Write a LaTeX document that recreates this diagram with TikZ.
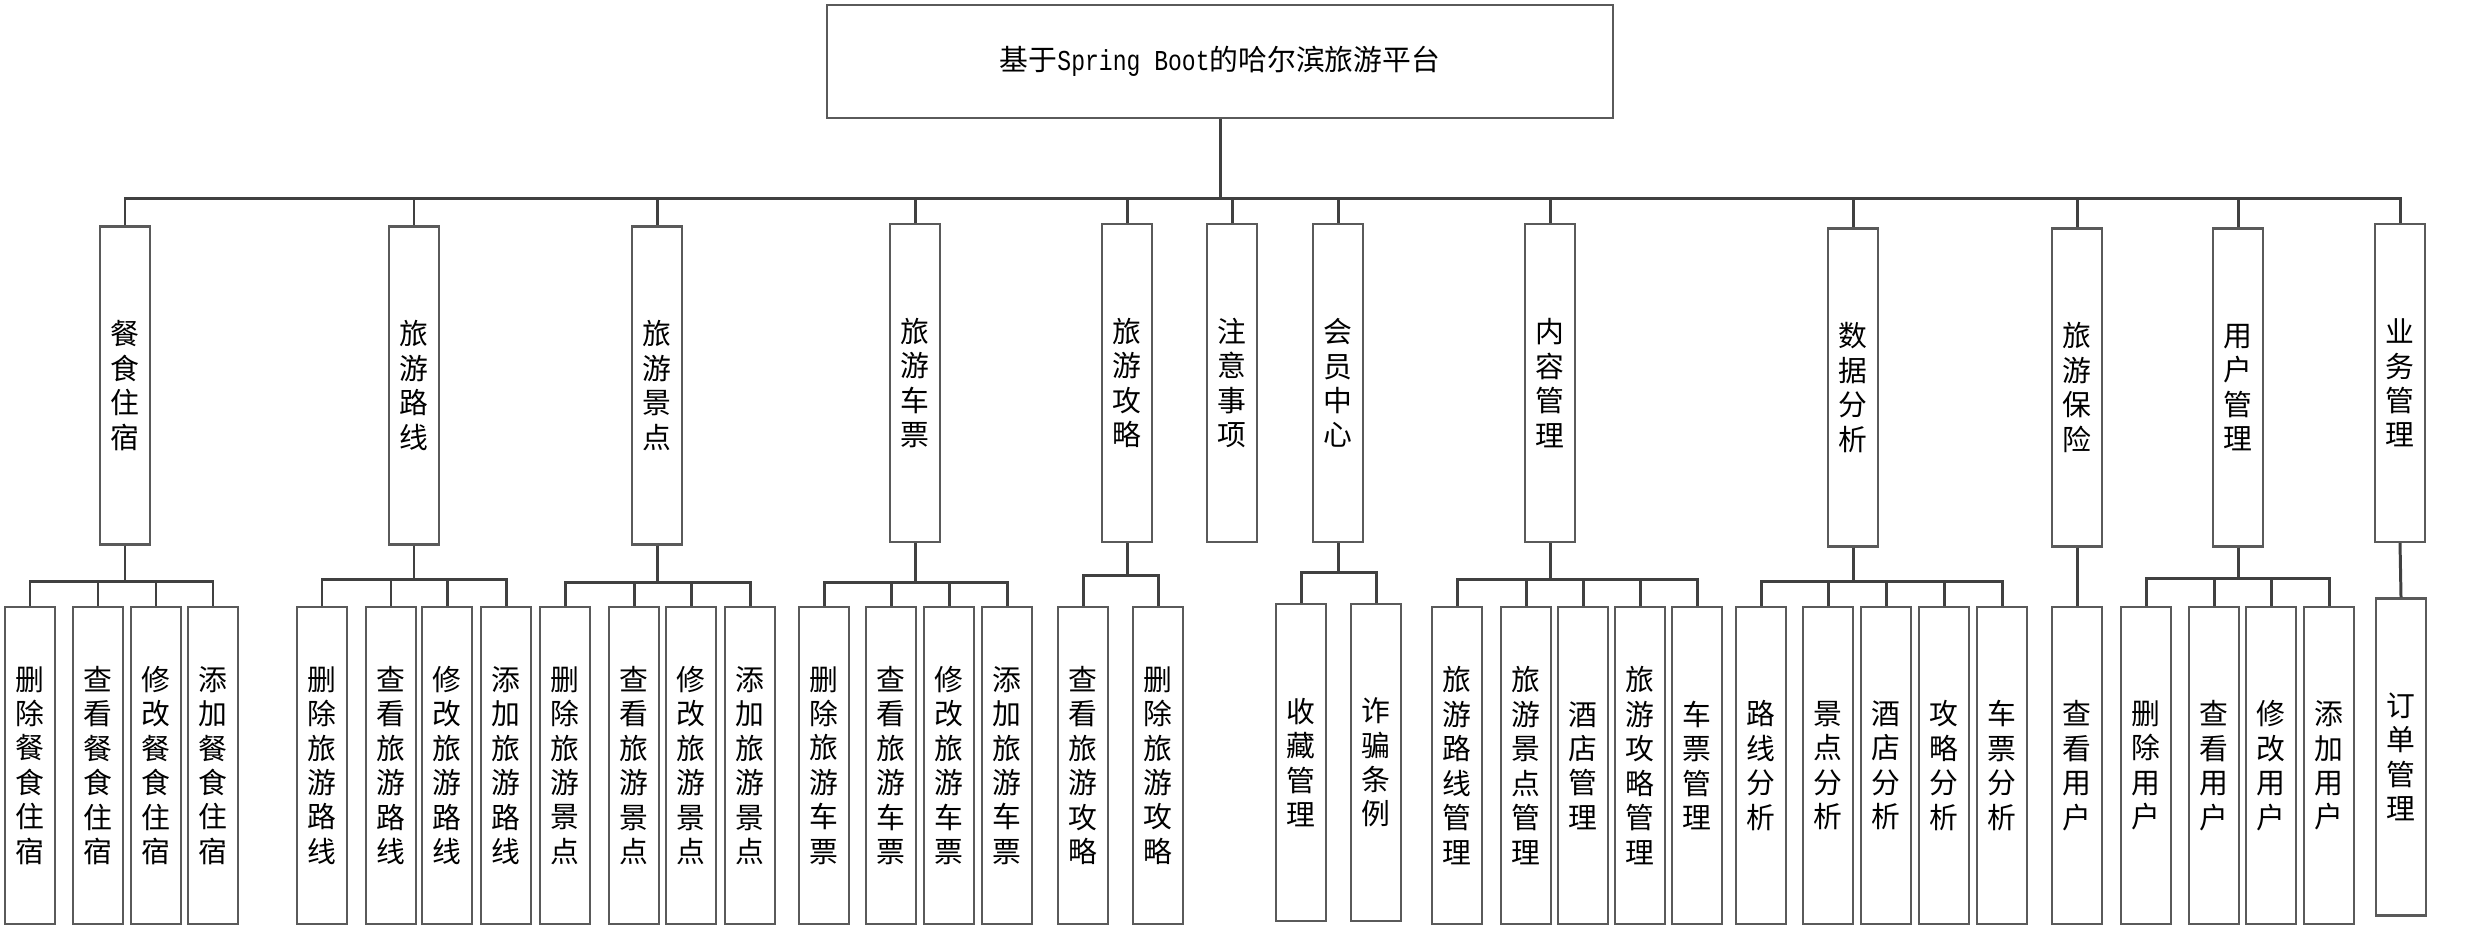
\documentclass[tikz,border=0pt]{standalone}
\usepackage{fontspec}
\setmainfont{Noto Sans CJK SC}
\newfontfamily\latinmono[FakeStretch=0.8]{Liberation Mono}
\usepackage{tikz}
\usetikzlibrary{calc}
\definecolor{hb-line}{HTML}{404040}
\definecolor{hb-box}{HTML}{5A5A5A}
\tikzset{
  hbbox/.style={draw=hb-box, line width=0.6pt, inner sep=0pt, align=center,
    font=\fontsize{8.2pt}{9.8pt}\selectfont},
  modbox/.style={hbbox, minimum width=0.5cm, minimum height=3.18cm},
  funbox/.style={hbbox, minimum width=0.5cm, minimum height=3.17cm},
  link/.style={draw=hb-line, line width=0.85pt},
}

\begin{document}
\begin{tikzpicture}
    \useasboundingbox (0,0) rectangle (24.74,-9.32);
    % root
    \node[hbbox, minimum width=7.86cm, minimum height=1.13cm] (root) at (12.20,-0.615)
        {基于{\latinmono Spring Boot}的哈尔滨旅游平台};
    % modules
    \node[modbox] (food)    at (1.25,-3.855)  {餐\\食\\住\\宿};
    \node[modbox] (route)   at (4.14,-3.855)  {旅\\游\\路\\线};
    \node[modbox] (spot)    at (6.57,-3.855)  {旅\\游\\景\\点};
    \node[modbox] (ticket)  at (9.15,-3.83)   {旅\\游\\车\\票};
    \node[modbox] (guide)   at (11.27,-3.83)  {旅\\游\\攻\\略};
    \node[modbox] (notice)  at (12.32,-3.83)  {注\\意\\事\\项};
    \node[modbox] (member)  at (13.38,-3.83)  {会\\员\\中\\心};
    \node[modbox] (content) at (15.50,-3.83)  {内\\容\\管\\理};
    \node[modbox] (data)    at (18.53,-3.875) {数\\据\\分\\析};
    \node[modbox] (insure)  at (20.77,-3.875) {旅\\游\\保\\险};
    \node[modbox] (user)    at (22.38,-3.875) {用\\户\\管\\理};
    \node[modbox] (biz)     at (24.00,-3.83)  {业\\务\\管\\理};
    \foreach \m in {food,route,spot,ticket,guide,notice,member,content,data,insure,user,biz}
        \draw[link] (root.south) -- ++(0,-0.79) -| (\m.north);
    % functions
    \foreach \x/\t [count=\i] in {0.30/删\\除\\餐\\食\\住\\宿, 0.98/查\\看\\餐\\食\\住\\宿,
        1.56/修\\改\\餐\\食\\住\\宿, 2.13/添\\加\\餐\\食\\住\\宿}
        \node[funbox] (food\i) at (\x,-7.655) {\t};
    \foreach \x/\t [count=\i] in {3.22/删\\除\\旅\\游\\路\\线, 3.91/查\\看\\旅\\游\\路\\线,
        4.47/修\\改\\旅\\游\\路\\线, 5.06/添\\加\\旅\\游\\路\\线}
        \node[funbox] (route\i) at (\x,-7.655) {\t};
    \foreach \x/\t [count=\i] in {5.65/删\\除\\旅\\游\\景\\点, 6.34/查\\看\\旅\\游\\景\\点,
        6.91/修\\改\\旅\\游\\景\\点, 7.50/添\\加\\旅\\游\\景\\点}
        \node[funbox] (spot\i) at (\x,-7.655) {\t};
    \foreach \x/\t [count=\i] in {8.24/删\\除\\旅\\游\\车\\票, 8.91/查\\看\\旅\\游\\车\\票,
        9.49/修\\改\\旅\\游\\车\\票, 10.07/添\\加\\旅\\游\\车\\票}
        \node[funbox] (ticket\i) at (\x,-7.655) {\t};
    \foreach \x/\t [count=\i] in {10.83/查\\看\\旅\\游\\攻\\略, 11.58/删\\除\\旅\\游\\攻\\略}
        \node[funbox] (guide\i) at (\x,-7.655) {\t};
    \foreach \x/\t [count=\i] in {13.01/收\\藏\\管\\理, 13.76/诈\\骗\\条\\例}
        \node[funbox] (member\i) at (\x,-7.625) {\t};
    \foreach \x/\t [count=\i] in {14.57/旅\\游\\路\\线\\管\\理, 15.26/旅\\游\\景\\点\\管\\理,
        15.83/酒\\店\\管\\理, 16.40/旅\\游\\攻\\略\\管\\理, 16.97/车\\票\\管\\理}
        \node[funbox] (content\i) at (\x,-7.655) {\t};
    \foreach \x/\t [count=\i] in {17.61/路\\线\\分\\析, 18.28/景\\点\\分\\析,
        18.86/酒\\店\\分\\析, 19.44/攻\\略\\分\\析, 20.02/车\\票\\分\\析}
        \node[funbox] (data\i) at (\x,-7.655) {\t};
    \node[funbox] (insure1) at (20.77,-7.655) {查\\看\\用\\户};
    \foreach \x/\t [count=\i] in {21.46/删\\除\\用\\户, 22.14/查\\看\\用\\户,
        22.71/修\\改\\用\\户, 23.29/添\\加\\用\\户}
        \node[funbox] (user\i) at (\x,-7.655) {\t};
    \node[funbox] (biz1) at (24.01,-7.57) {订\\单\\管\\理};
    % connectors
    \foreach \i in {1,...,4} \draw[link] (food.south) -- ++(0,-0.36) -| (food\i.north);
    \foreach \i in {1,...,4} \draw[link] (route.south) -- ++(0,-0.34) -| (route\i.north);
    \foreach \i in {1,...,4} \draw[link] (spot.south) -- ++(0,-0.37) -| (spot\i.north);
    \foreach \i in {1,...,4} \draw[link] (ticket.south) -- ++(0,-0.39) -| (ticket\i.north);
    \foreach \i in {1,2} \draw[link] (guide.south) -- ++(0,-0.32) -| (guide\i.north);
    \foreach \i in {1,2} \draw[link] (member.south) -- ++(0,-0.29) -| (member\i.north);
    \foreach \i in {1,...,5} \draw[link] (content.south) -- ++(0,-0.36) -| (content\i.north);
    \foreach \i in {1,...,5} \draw[link] (data.south) -- ++(0,-0.34) -| (data\i.north);
    \draw[link] (insure.south) -- (insure1.north);
    \foreach \i in {1,...,4} \draw[link] (user.south) -- ++(0,-0.31) -| (user\i.north);
    \draw[link] (biz.south) -- (biz1.north);
\end{tikzpicture}
\end{document}
